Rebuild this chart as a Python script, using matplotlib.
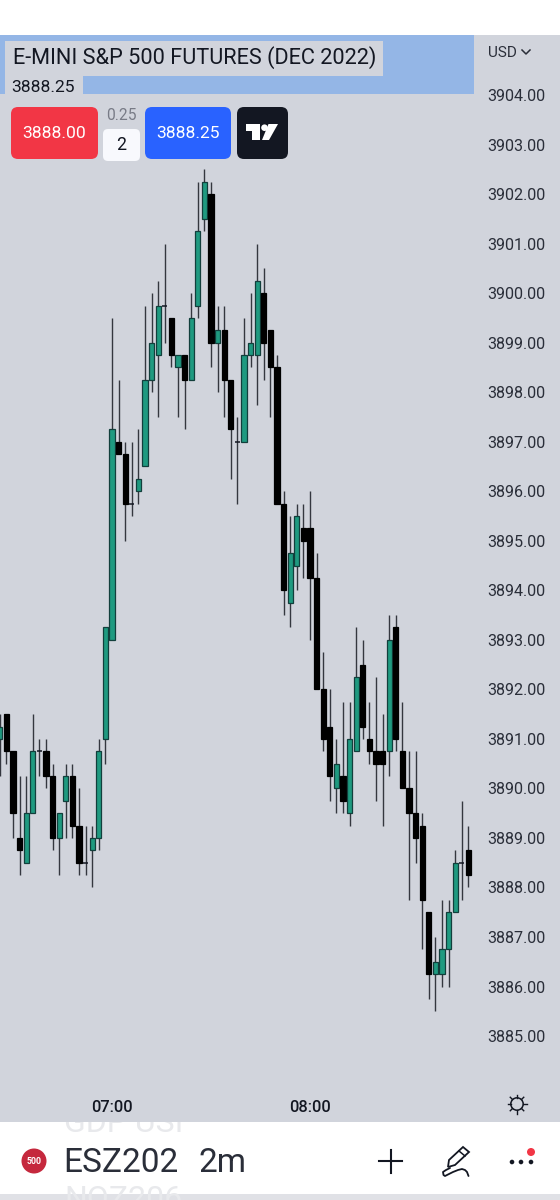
import matplotlib
matplotlib.use("Agg")
import matplotlib.pyplot as plt
from matplotlib.patches import Circle, FancyBboxPatch, Polygon, Rectangle

plt.rcParams["font.family"] = ["Roboto", "DejaVu Sans"]

# candle number relative to the 07:00 bar, 2 minute bars
first_bar = -17
opens = [3891.0, 3891.5, 3890.75, 3889.0, 3888.5, 3889.5, 3890.75, 3890.75, 3890.25, 3889.0, 3889.75, 3890.25,
         3889.25, 3888.5, 3888.75, 3889.0, 3891.0, 3893.0, 3897.0, 3896.75, 3895.75, 3896.0, 3896.5, 3898.25,
         3898.75, 3899.75, 3899.5, 3898.5, 3898.75, 3898.25, 3899.75, 3901.5, 3902.0, 3899.0, 3899.25, 3898.25,
         3897.0, 3897.0, 3898.75, 3898.75, 3900.0, 3899.25, 3898.5, 3895.75, 3893.75, 3894.5, 3895.25, 3895.25,
         3894.25, 3892.0, 3891.25, 3890.0, 3890.25, 3889.5, 3890.75, 3892.5, 3891.0, 3890.75, 3890.75, 3890.75,
         3893.25, 3890.75, 3890.0, 3889.5, 3889.25, 3887.5, 3886.25, 3886.25, 3886.75, 3887.5, 3888.5, 3888.75]
highs = [3891.5, 3891.5, 3890.75, 3890.25, 3890.25, 3891.5, 3891.0, 3891.0, 3890.5, 3889.5, 3890.5, 3890.5,
         3890.0, 3889.25, 3889.25, 3891.0, 3893.25, 3899.5, 3898.25, 3897.0, 3897.0, 3897.25, 3899.75, 3900.0,
         3900.25, 3901.0, 3899.5, 3898.75, 3898.75, 3900.0, 3902.25, 3902.5, 3902.25, 3899.75, 3899.75, 3898.25,
         3897.5, 3899.5, 3900.0, 3901.0, 3900.5, 3899.25, 3898.75, 3896.0, 3895.5, 3895.75, 3895.75, 3896.0,
         3894.75, 3892.75, 3892.0, 3891.0, 3891.75, 3891.75, 3893.25, 3893.0, 3891.75, 3892.25, 3891.5, 3893.5,
         3893.5, 3891.75, 3890.75, 3890.75, 3889.5, 3887.5, 3887.0, 3887.75, 3887.75, 3888.75, 3889.75, 3889.25]
lows = [3890.25, 3890.5, 3889.0, 3888.25, 3888.5, 3889.5, 3890.25, 3890.0, 3888.75, 3888.25, 3889.0, 3889.0,
        3888.25, 3888.25, 3888.0, 3888.75, 3890.5, 3893.0, 3896.75, 3895.0, 3895.5, 3895.75, 3896.5, 3898.0,
        3897.5, 3899.0, 3898.5, 3897.5, 3897.25, 3898.25, 3899.5, 3901.25, 3898.5, 3898.0, 3897.5, 3896.25,
        3895.75, 3897.0, 3898.5, 3897.75, 3898.25, 3897.5, 3895.75, 3893.5, 3893.25, 3894.0, 3894.25, 3893.0,
        3892.0, 3890.75, 3889.75, 3889.5, 3889.5, 3889.25, 3890.75, 3891.0, 3890.5, 3889.75, 3889.25, 3890.25,
        3890.75, 3890.0, 3887.75, 3888.5, 3886.75, 3885.75, 3885.5, 3886.0, 3886.0, 3887.5, 3887.75, 3888.0]
closes = [3891.25, 3890.75, 3889.5, 3888.75, 3889.5, 3890.75, 3890.75, 3890.25, 3889.0, 3889.5, 3890.25, 3889.25,
          3888.5, 3888.5, 3889.0, 3890.75, 3893.25, 3897.25, 3896.75, 3895.75, 3895.75, 3896.25, 3898.25, 3899.0,
          3899.75, 3899.75, 3898.75, 3898.75, 3898.25, 3899.5, 3901.25, 3902.25, 3899.0, 3899.25, 3898.25, 3897.25,
          3897.0, 3898.75, 3899.0, 3900.25, 3899.0, 3898.5, 3895.75, 3894.0, 3894.75, 3895.5, 3895.0, 3894.25,
          3892.0, 3891.0, 3890.25, 3890.5, 3889.75, 3891.0, 3892.25, 3891.25, 3890.75, 3890.5, 3890.5, 3893.0,
          3891.0, 3890.0, 3889.5, 3889.0, 3887.75, 3886.25, 3886.5, 3886.75, 3887.5, 3888.5, 3888.5, 3888.25]

price_ticks = [3904, 3903, 3902, 3901, 3900, 3899, 3898, 3897, 3896, 3895,
               3894, 3893, 3892, 3891, 3890, 3889, 3888, 3887, 3886, 3885]
time_ticks = [0, 30]
time_labels = ["07:00", "08:00"]

BG = "#d1d4dc"
GREEN = "#1f9a80"
EDGE = "#123f3c"
WICK = "#34373f"
INK = "#131722"

fig = plt.figure(figsize=(5.6, 12), dpi=100, facecolor="white")

# chart pane runs from y=35 to y=1122 in picture pixels
ax = fig.add_axes([0, 1 - 1122 / 1200, 1, 1087 / 1200], facecolor=BG)
bars = list(range(first_bar, first_bar + len(opens)))

for b, o, h, l, c in zip(bars, opens, highs, lows, closes):
    ax.vlines(b, l, h, color=WICK, linewidth=1.0, zorder=2)
    if o == c:
        ax.hlines(o, b - 0.38, b + 0.38, color=INK, linewidth=1.1, zorder=3)
    elif c > o:
        ax.bar(b, c - o, bottom=o, width=0.78, color=GREEN, edgecolor=EDGE, linewidth=0.9, zorder=3)
    else:
        ax.bar(b, o - c, bottom=c, width=0.78, color="black", edgecolor="black", linewidth=0.9, zorder=3)

ax.set_xlim(-112 / 6.6, 448 / 6.6)
ax.set_ylim(3904 - 1027 / 49.53, 3904 + 60 / 49.53)
for s in ax.spines.values():
    s.set_visible(False)

ax.yaxis.tick_right()
ax.set_yticks(price_ticks)
ax.set_yticklabels([f"{p:.2f}" for p in price_ticks])
ax.tick_params(axis="y", length=0, pad=-52.5, labelsize=11.6, labelcolor="#2a2e39")
ax.set_xticks(time_ticks)
ax.set_xticklabels(time_labels, fontweight="medium")
ax.tick_params(axis="x", length=0, pad=-16.2, labelsize=11.8, labelcolor=INK)

# app furniture, drawn in picture pixels
ui = fig.add_axes([0, 0, 1, 1], facecolor="none")
ui.set_xlim(0, 560)
ui.set_ylim(1200, 0)
ui.axis("off")


def box(x0, y0, x1, y1, color, r=0, z=5):
    if r:
        p = FancyBboxPatch((x0 + r, y0 + r), x1 - x0 - 2 * r, y1 - y0 - 2 * r,
                           boxstyle=f"round,pad={r}", fc=color, ec="none", zorder=z)
    else:
        p = Rectangle((x0, y0), x1 - x0, y1 - y0, fc=color, ec="none", zorder=z)
    ui.add_patch(p)


# legend strip
box(0, 35, 474, 94, "#94b6e6")
box(5, 41, 383, 76, BG, z=6)
box(5, 76, 83, 94, BG, z=6)
ui.text(13, 58, "E-MINI S&P 500 FUTURES (DEC 2022)", fontsize=15.65, color=INK, va="center", zorder=7)
ui.text(11, 87, "3888.25", fontsize=12.6, color=INK, va="center", zorder=7)
ui.text(488, 53, "USD", fontsize=11, color="#2a2e39", va="center", zorder=7)
ui.plot([522, 526, 530], [50, 54, 50], color="#2a2e39", lw=1.1, zorder=7)

# buy and sell buttons
box(11, 107, 98, 159, "#f23645", r=7)
ui.text(54.5, 133, "3888.00", fontsize=12.6, color="white", ha="center", va="center", zorder=7)
ui.text(121, 115, "0.25", fontsize=11.2, color="#787b86", ha="center", va="center", zorder=7)
box(103, 129, 140, 161, "#f8f9fd", r=5)
ui.text(121, 145, "2", fontsize=12.8, color=INK, ha="center", va="center", zorder=7)
box(145, 107, 231, 159, "#2962ff", r=7)
ui.text(188, 133, "3888.25", fontsize=12.6, color="white", ha="center", va="center", zorder=7)
box(237, 107, 288, 159, "#131722", r=7)
ui.add_patch(Polygon([(246, 124), (260, 124), (260, 140), (252, 140), (252, 131), (246, 131)], fc="white", zorder=7))
ui.add_patch(Circle((264.5, 127.7), 3.3, fc="white", zorder=7))
ui.add_patch(Polygon([(268.5, 124), (278, 124), (269, 140), (262, 140)], fc="white", zorder=7))

# settings gear
ui.add_patch(Circle((517, 1104), 6.2, fc="none", ec=INK, lw=1.1, zorder=7))
for dx, dy in [(0, -1), (0, 1), (1, 0), (-1, 0), (0.71, 0.71), (-0.71, 0.71), (0.71, -0.71), (-0.71, -0.71)]:
    ui.plot([517 + 6.2 * dx, 517 + 9.5 * dx], [1104 + 6.2 * dy, 1104 + 9.5 * dy], color=INK, lw=1.0, zorder=7)

# bottom toolbar
box(0, 1122, 560, 1194, "white")
box(0, 1194, 560, 1200, "#e0e1e6")
clip = Rectangle((0, 1122), 560, 78, transform=ui.transData)
for y, s in [(1124, "GDP USI"), (1199, "NQZ206")]:
    t = ui.text(64, y, s, fontsize=23, color="#e8e9ec", va="center", zorder=6)
    t.set_clip_path(clip)
    t.set_clip_on(True)
ui.add_patch(Circle((34, 1161), 12.5, fc="#c5283d", zorder=7))
ui.text(34, 1161.5, "500", fontsize=6.3, color="white", fontweight="bold", ha="center", va="center", zorder=8)
ui.text(63, 1163, "ESZ202", fontsize=24, color="#2a2e39", va="center", zorder=7)
ui.text(199, 1163, "2m", fontsize=24, color="#2a2e39", va="center", zorder=7)

ui.plot([379, 402], [1161, 1161], color=INK, lw=1.5, zorder=7)
ui.plot([390.5, 390.5], [1150, 1173], color=INK, lw=1.5, zorder=7)

# pen icon
ui.add_patch(Polygon([(463, 1147), (469, 1152), (455, 1165), (448, 1167), (449, 1160)],
                     fc="white", ec=INK, lw=1.3, zorder=7))
ui.plot([459, 465], [1151, 1156], color=INK, lw=1.1, zorder=8)
ui.plot([450, 446, 443, 443.5, 445, 449, 453, 458, 462, 465, 467, 468.5],
        [1168, 1170, 1172, 1175, 1176, 1174, 1172, 1170, 1169, 1170, 1172, 1176],
        color=INK, lw=1.3, solid_capstyle="round", zorder=7)

for x in [512, 521, 531]:
    ui.add_patch(Circle((x, 1162), 2.3, fc=INK, zorder=7))
ui.add_patch(Circle((531, 1152), 4, fc="#f23645", zorder=8))

fig.savefig("out.png", dpi=100, facecolor="white")
